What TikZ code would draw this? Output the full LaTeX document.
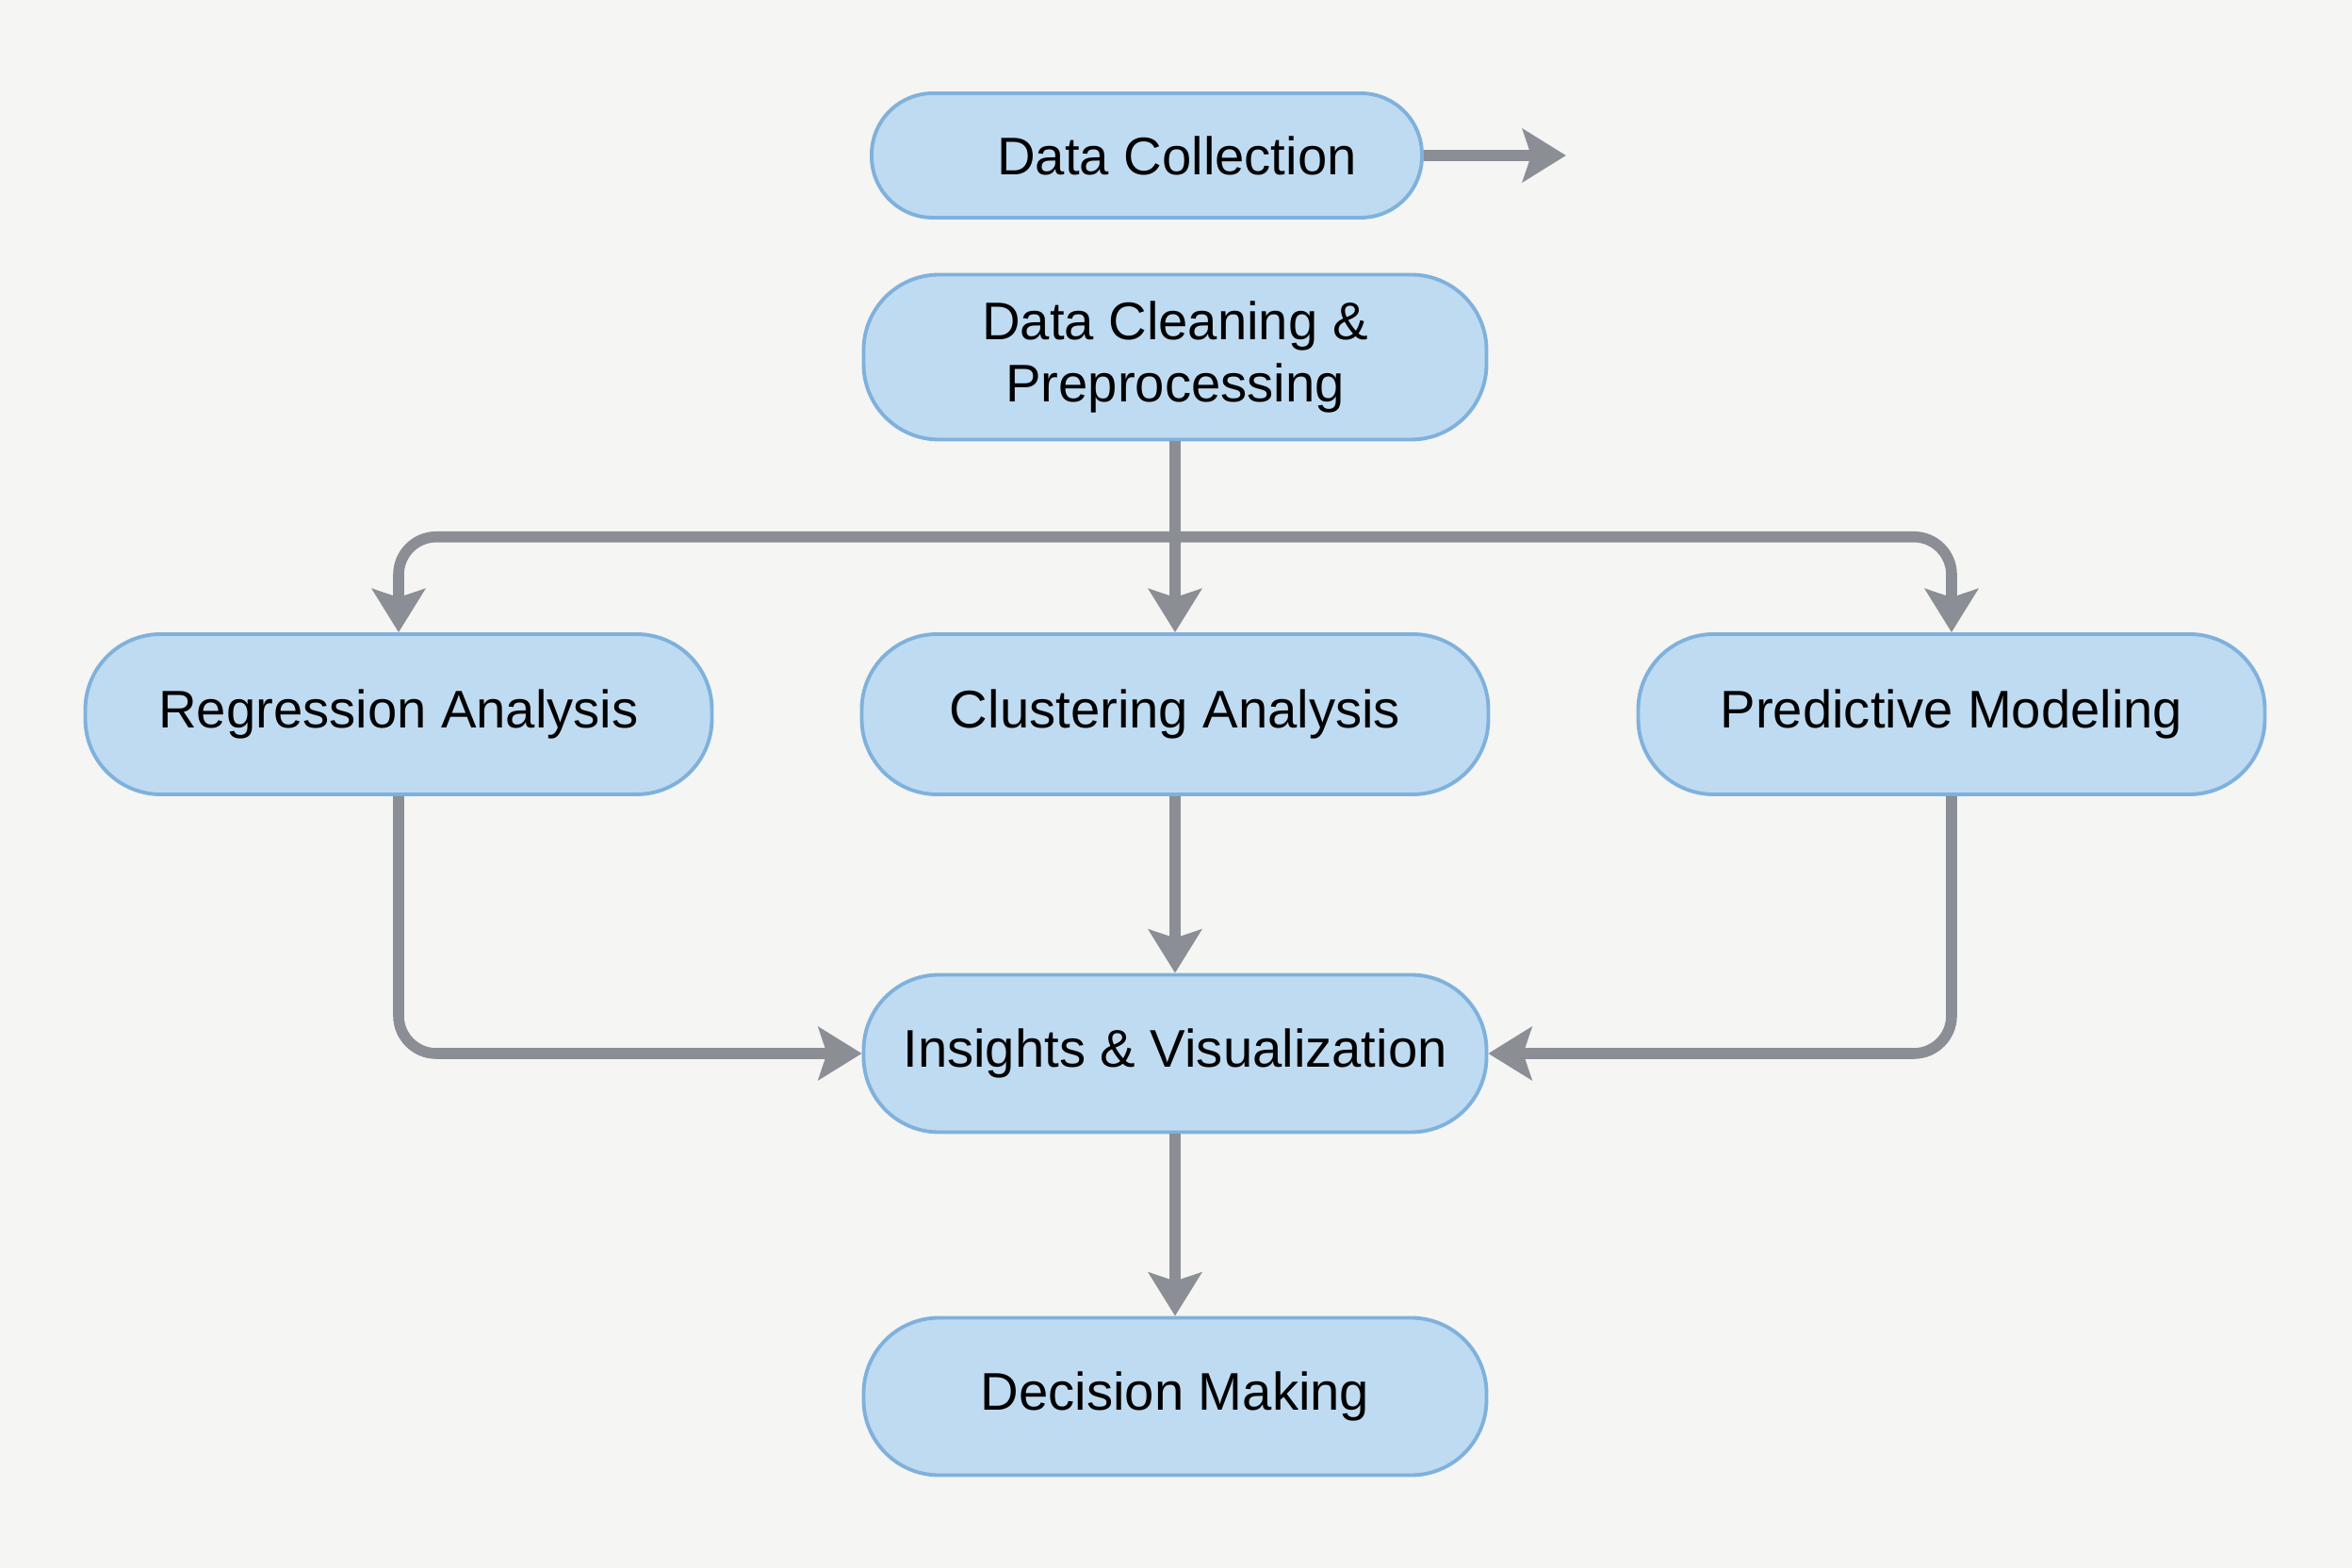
\documentclass[tikz,border=0pt]{standalone}
\usepackage{fontspec}
\setmainfont{Liberation Sans}
\usetikzlibrary{arrows.meta,shapes,calc,positioning}
\definecolor{paperGray}{HTML}{F5F5F3}
\definecolor{boxFill}{HTML}{BEDBF1}
\definecolor{boxLine}{HTML}{7FB1DC}
\definecolor{flowGray}{HTML}{8B8E94}
\tikzset{%
  >={Stealth[width=5.6mm,length=4.6mm,inset=0.9mm]},
  % Specifications for style of nodes:
     base/.style = {rectangle, rounded corners=8mm, draw=boxLine, line width=1.1pt,
                           fill=boxFill, minimum width=6.61cm, minimum height=1.70cm,
                           inner sep=0pt, text centered, font=\fontsize{16}{19}\selectfont},
    sourceStage/.style = {base, rounded corners=6.5mm, minimum width=5.84cm, minimum height=1.32cm},
    prepStage/.style = {base, minimum height=1.75cm},
    analysisStage/.style = {base, minimum width=6.65cm},
    outputStage/.style = {base, minimum height=1.67cm},
    flow/.style = {draw=flowGray, line width=3.3pt},
}

\begin{document}
\begin{tikzpicture}[node distance=3.6cm, align=center]
  \fill[paperGray] (0,0) rectangle (24.96,-16.64);
  % Specification of nodes (position, etc.)
  \node (cleanBlock)       [prepStage] at (12.47,-3.79)
                           {Data Cleaning \&\\ Preprocessing};
  \node (collectBlock)     [sourceStage, above of=cleanBlock, yshift=-1.46cm, xshift=-0.30cm]
                           {\hspace*{0.64cm}Data Collection};
  \node (clusterBlock)     [analysisStage, below of=cleanBlock, yshift=-0.19cm]
                           {Clustering Analysis};
  \node (regressionBlock)  [analysisStage, left of=clusterBlock, xshift=-4.64cm]
                           {Regression Analysis};
  \node (predictBlock)     [analysisStage, right of=clusterBlock, xshift=4.64cm]
                           {Predictive Modeling};
  \node (insightBlock)     [outputStage, below of=clusterBlock]
                           {Insights \& Visualization};
  \node (decisionBlock)    [outputStage, below of=insightBlock, yshift=-0.04cm]
                           {Decision Making};

  \coordinate[right=1.51cm of collectBlock] (collectOut);
  \coordinate (splitPoint) at ($(cleanBlock.south)!0.5!(clusterBlock.north)$);

  % Specification of lines between nodes specified above
  \draw[flow, ->]          (collectBlock) -- (collectOut);

  \draw[flow, ->]          (cleanBlock) -- (clusterBlock);
  \draw[flow, ->, rounded corners=4mm] (splitPoint) -| (regressionBlock.north);
  \draw[flow, ->, rounded corners=4mm] (splitPoint) -| (predictBlock.north);

  \draw[flow, ->]          (clusterBlock) -- (insightBlock);
  \draw[flow, ->, rounded corners=4mm] (regressionBlock.south) |- (insightBlock.west);
  \draw[flow, ->, rounded corners=4mm] (predictBlock.south) |- (insightBlock.east);

  \draw[flow, ->]          (insightBlock) -- (decisionBlock);
\end{tikzpicture}
\end{document}
